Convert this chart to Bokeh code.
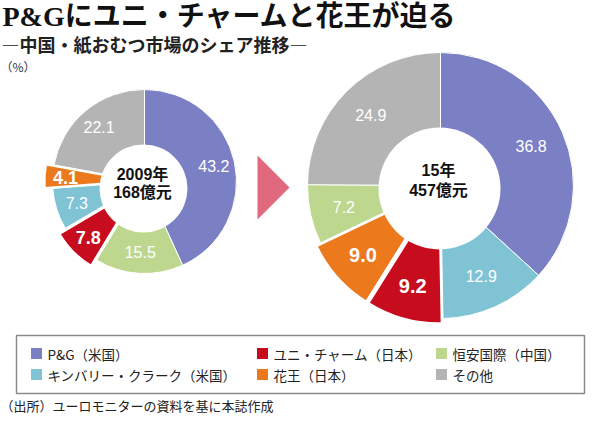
import math
from bokeh.plotting import figure
from bokeh.models import Range1d, ColumnDataSource
from bokeh.core.properties import value
from bokeh.embed import file_html
from bokeh.resources import INLINE

# ---------------- data ----------------
title_text = "P&Gにユニ・チャームと花王が迫る"
subtitle_text = "―中国・紙おむつ市場のシェア推移―"
unit_text = "（%）"
source_text = "（出所）ユーロモニターの資料を基に本誌作成"

companies = ["P&G", "キンバリー・クラーク", "ユニ・チャーム", "花王", "恒安国際", "その他"]
legend_labels = ["P&G（米国）", "キンバリー・クラーク（米国）", "ユニ・チャーム（日本）",
                 "花王（日本）", "恒安国際（中国）", "その他"]
company_colors = ["#7b80c4", "#7fc3d5", "#c70d1d", "#ec791b", "#bdd78f", "#b4b4b4"]
highlighted = ["ユニ・チャーム", "花王"]

order_2009 = ["P&G", "恒安国際", "ユニ・チャーム", "キンバリー・クラーク", "花王", "その他"]
share_2009 = [43.2, 15.5, 7.8, 7.3, 4.1, 22.1]
center_2009 = ["2009年", "168億元"]

order_2015 = ["P&G", "キンバリー・クラーク", "ユニ・チャーム", "花王", "恒安国際", "その他"]
share_2015 = [36.8, 12.9, 9.2, 9.0, 7.2, 24.9]
center_2015 = ["15年", "457億元"]

# ---------------- layout ----------------
W, H = 586, 414
PAGE_H = 430
JP = "Noto Sans CJK JP"
NUM = "Liberation Sans"


def Y(y_ref):
    return PAGE_H - y_ref


p = figure(width=W, height=H, output_backend="svg", toolbar_location=None,
           x_range=Range1d(8, 8 + W), y_range=Range1d(PAGE_H - 8 - H, PAGE_H - 8),
           min_border=0, background_fill_color="white", border_fill_color="white")
p.outline_line_color = None
p.axis.visible = False
p.grid.visible = False

color_of = dict(zip(companies, company_colors))


def donut(order, shares, cx, cy_ref, R, hole_cx, hole_cy_ref, r, label_r, explode,
          fs_norm, fs_bold, center_lines, center_y_refs):
    cy = Y(cy_ref)
    rows = []
    cum = 0.0
    for name, v in zip(order, shares):
        a0 = cum / 100 * 2 * math.pi
        a1 = (cum + v) / 100 * 2 * math.pi
        mid = (a0 + a1) / 2
        hl = name in highlighted
        off = explode if hl else 0
        dx, dy = math.sin(mid), math.cos(mid)
        rows.append(dict(
            x=cx + off * dx, y=cy + off * dy,
            start=math.pi / 2 - a0, end=math.pi / 2 - a1,
            color=color_of[name], lw=2.0 if hl else 1.0,
            lx=cx + (label_r + off) * dx, ly=cy + (label_r + off) * dy,
            label=f"{v:.1f}", hl=hl))
        cum += v
    rows.sort(key=lambda d: d["hl"])
    cols = {k: [d[k] for d in rows] for k in rows[0]}
    src = ColumnDataSource(cols)
    p.wedge(x="x", y="y", radius=R, start_angle="start", end_angle="end",
            direction="clock", fill_color="color", line_color="white",
            line_width="lw", source=src)
    p.circle(x=[hole_cx], y=[Y(hole_cy_ref)], radius=r, fill_color="white",
             line_color=None)
    norm = ColumnDataSource({k: [d[k] for d in rows if not d["hl"]] for k in ("lx", "ly", "label")})
    bold = ColumnDataSource({k: [d[k] for d in rows if d["hl"]] for k in ("lx", "ly", "label")})
    p.text(x="lx", y="ly", text="label", source=norm, text_color="white",
           text_font=value(NUM), text_font_size=f"{fs_norm}px",
           text_align="center", text_baseline="middle")
    p.text(x="lx", y="ly", text="label", source=bold, text_color="white",
           text_font=value(NUM), text_font_style="bold", text_font_size=f"{fs_bold}px",
           text_align="center", text_baseline="middle")
    p.text(x=[hole_cx - 1] * 2, y=[Y(v) for v in center_y_refs], text=center_lines,
           text_color="#111111", text_font=value(f"{NUM}, {JP}"),
           text_font_style="bold", text_font_size="16px",
           text_align="center", text_baseline="middle")


donut(order_2009, share_2009, 152, 189, 92, 151, 196, 44, 71, 8, 16, 18,
      center_2009, [182, 200])
donut(order_2015, share_2015, 448, 193, 133, 447, 196, 61, 99, 5, 16, 20,
      center_2015, [178, 198])

# arrow between the two donuts
ax, ay, aw, ah = 265, 195, 32, 64
p.patch(x=[ax, ax, ax + aw], y=[Y(ay - ah / 2), Y(ay + ah / 2), Y(ay)],
        fill_color="#e0697d", line_color=None)

# titles
p.text(x=[10], y=[Y(24)], text=[title_text], text_color="#111111",
       text_font=value(f"Liberation Serif, {JP}"), text_font_style="bold",
       text_font_size="28px", text_baseline="middle")
p.text(x=[9], y=[Y(51)], text=[subtitle_text], text_color="#222222",
       text_font=value(JP), text_font_style="bold", text_font_size="18px",
       text_baseline="middle")
p.text(x=[8], y=[Y(74)], text=[unit_text], text_color="#333333",
       text_font=value(JP), text_font_size="12px", text_baseline="middle")
p.text(x=[8], y=[Y(413)], text=[source_text], text_color="#222222",
       text_font=value(JP), text_font_size="13px", text_baseline="middle")

# legend box
p.quad(left=[24], right=[592], top=[Y(343)], bottom=[Y(401)], fill_color=None,
       line_color="#8a8a8a", line_width=1.5)
leg_sq_x = [44, 44, 270, 270, 449, 449]
leg_y = [361, 382, 361, 382, 361, 382]
leg_src = ColumnDataSource(dict(
    sx=leg_sq_x, tx=[x + 11 for x in leg_sq_x], y=[Y(v) for v in leg_y],
    color=company_colors, label=legend_labels))
p.scatter(x="sx", y="y", marker="square", size=11, fill_color="color",
          line_color=None, source=leg_src)
p.text(x="tx", y="y", text="label", source=leg_src, text_color="#222222",
       text_font=value(JP), text_font_size="13.5px", text_baseline="middle")

open("out.html", "w").write(file_html(p, INLINE))
